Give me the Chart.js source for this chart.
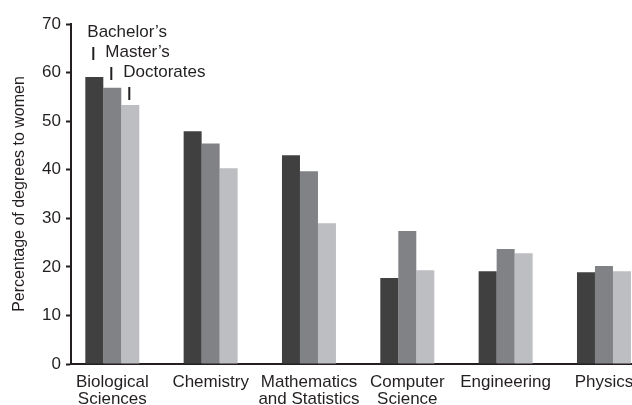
<!DOCTYPE html>
<html>
<head>
<meta charset="utf-8">
<script src="https://cdn.jsdelivr.net/npm/chart.js@4/dist/chart.umd.min.js"></script>
<style>
  html, body { margin: 0; padding: 0; background: #fff; }
  #wrap { width: 632px; height: 405px; overflow: hidden; position: relative; }
  #graph-canvas { display: block; }
</style>
</head>
<body>
<div id="wrap">
  <canvas id="graph-canvas" width="661" height="405"></canvas>
</div>
<script>
const ctx = document.getElementById('graph-canvas');

const fields = [["Biological", "Sciences"], "Chemistry", ["Mathematics", "and Statistics"], ["Computer", "Science"], "Engineering", "Physics"];
const seriesNames = ["Bachelor\u2019s", "Master\u2019s", "Doctorates"];
const bachelors = [59.1, 47.9, 43.0, 17.7, 19.1, 18.9];
const masters = [56.9, 45.4, 39.7, 27.4, 23.7, 20.2];
const doctorates = [53.3, 40.3, 29.0, 19.3, 22.8, 19.1];
const yTicks = [0, 10, 20, 30, 40, 50, 60, 70];

const ink = '#231f20';
const fontFamily = '"Liberation Sans", Arial, Helvetica, sans-serif';

// labels for the three series, drawn over the first group of bars
const seriesLabels = {
    id: 'seriesLabels',
    afterDatasetsDraw(chart) {
        const c = chart.ctx;
        c.save();
        c.font = '17px ' + fontFamily;
        c.fillStyle = ink;
        c.strokeStyle = ink;
        c.lineWidth = 2;
        for (var i = 0; i < seriesNames.length; i++) {
            var bar = chart.getDatasetMeta(i).data[0];
            var left = bar.x - bar.width / 2;
            var base = chart.chartArea.top + 13 + i * 20;
            c.fillText(seriesNames[i], left + 2, base);
            c.beginPath();
            c.moveTo(bar.x - 1, base + 10);
            c.lineTo(bar.x - 1, base + 23);
            c.stroke();
        }
        c.restore();
    }
};

var chart = new Chart(ctx,
    {
    type: 'bar',
    data:
    {
        labels: fields,
        datasets:
        [
            { label: seriesNames[0], data: bachelors, backgroundColor: '#404040' },
            { label: seriesNames[1], data: masters, backgroundColor: '#818285' },
            { label: seriesNames[2], data: doctorates, backgroundColor: '#bdbec1' }
        ]
    },
    options:
    {
        responsive: false,
        animation: false,
        layout: { padding: { top: 24, right: 0, bottom: 0, left: 0 } },
        datasets: { bar: { categoryPercentage: 0.549, barPercentage: 1.0 } },
        plugins:
        {
            legend: { display: false },
            tooltip: { enabled: false }
        },
        scales:
        {
            x:
            {
                // pull the first group a bit closer to the y axis
                afterDataLimits: function(axis) { axis.min = 0.08; },
                afterBuildTicks: function(axis) {
                    axis.ticks = fields.map(function(f, i) { return { value: i }; });
                },
                grid: { display: false, drawTicks: false },
                border: { display: true, color: ink, width: 2 },
                ticks:
                {
                    color: ink,
                    padding: 9,
                    maxRotation: 0,
                    autoSkip: false,
                    font: { family: fontFamily, size: 17, lineHeight: 1.05 }
                },
                afterFit: function(axis) { axis.height = 41; }
            },
            y:
            {
                min: 0,
                max: 70,
                afterBuildTicks: function(axis) {
                    axis.ticks = yTicks.map(function(v) { return { value: v }; });
                },
                grid: { drawOnChartArea: false, drawTicks: true, tickLength: 5, tickWidth: 2, color: ink },
                border: { display: true, color: ink, width: 2 },
                ticks:
                {
                    color: ink,
                    padding: 5,
                    font: { family: fontFamily, size: 17 }
                },
                title:
                {
                    display: true,
                    text: 'Percentage of degrees to women',
                    color: ink,
                    padding: { top: 10, bottom: 0 },
                    font: { family: fontFamily, size: 16 }
                },
                afterFit: function(axis) { axis.width = 71; }
            }
        }
    },
    plugins: [seriesLabels]
});
</script>
</body>
</html>
